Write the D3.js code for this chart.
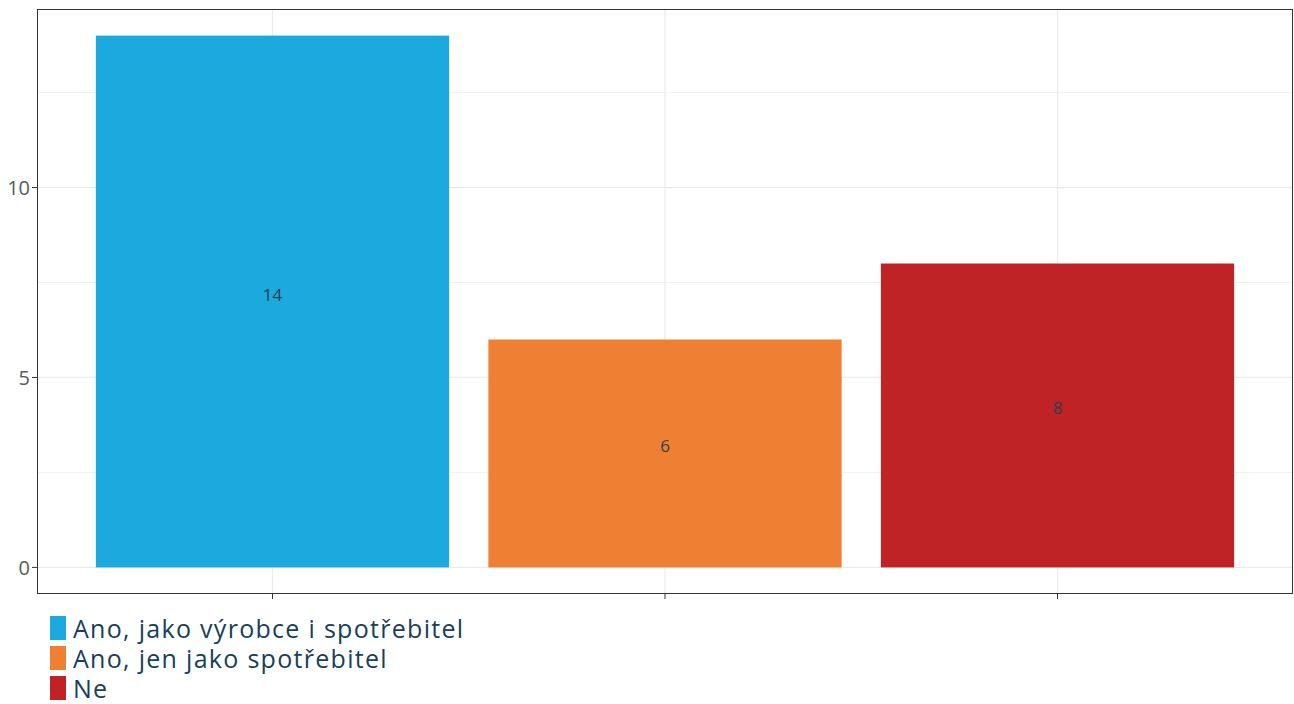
<!DOCTYPE html>
<html><head><meta charset="utf-8">
<script src="https://cdn.jsdelivr.net/npm/d3@7"></script>
<style>body{margin:0;background:#fff}svg{display:block}</style>
</head><body>
<svg id="chart" width="1294" height="704"></svg>
<script>
const categories = ["Ano, jako výrobce i spotřebitel", "Ano, jen jako spotřebitel", "Ne"];
const values = [14, 6, 8];
const colors = ["#1CAADE", "#EF7F33", "#C02326"];
const yTicks = [0, 5, 10];
const yMinor = [2.5, 7.5, 12.5];

const FONT = "'Open Sans', Lato, sans-serif";
const svg = d3.select("#chart");
const L = 37, R = 1293, T = 9, B = 594;
const y = d3.scaleLinear().domain([-0.7, 14.7]).range([B, T]);
const x = d3.scaleLinear().domain([0.4, 3.6]).range([L, R]);
const cx = (i) => x(i + 1);
const bw = x(1.9) - x(1);

const g = svg.append("g");
g.selectAll(".ymin").data(yMinor).join("line")
  .attr("x1", L).attr("x2", R).attr("y1", d => y(d)).attr("y2", d => y(d))
  .attr("stroke", "#ebebeb").attr("stroke-width", 0.7);
g.selectAll(".ymaj").data(yTicks).join("line")
  .attr("x1", L).attr("x2", R).attr("y1", d => y(d)).attr("y2", d => y(d))
  .attr("stroke", "#ebebeb").attr("stroke-width", 1.2);
g.selectAll(".xmaj").data(categories).join("line")
  .attr("x1", (d, i) => cx(i)).attr("x2", (d, i) => cx(i)).attr("y1", T).attr("y2", B)
  .attr("stroke", "#ebebeb").attr("stroke-width", 1.2);

g.selectAll(".bar").data(values).join("rect")
  .attr("x", (d, i) => cx(i) - bw / 2).attr("width", bw)
  .attr("y", d => y(d)).attr("height", d => y(0) - y(d))
  .attr("fill", (d, i) => colors[i]);

g.selectAll(".lbl").data(values).join("text")
  .attr("x", (d, i) => cx(i)).attr("y", d => y(d / 2) - 1)
  .attr("text-anchor", "middle")
  .attr("font-family", FONT).attr("font-size", 17)
  .attr("fill", "#2a3f4f").text(d => d);

g.append("rect").attr("x", L + 0.5).attr("y", T + 0.5).attr("width", R - L - 1).attr("height", B - T - 1)
  .attr("fill", "none").attr("stroke", "#333").attr("stroke-width", 1);

g.selectAll(".yt").data(yTicks).join("line")
  .attr("x1", L - 5).attr("x2", L).attr("y1", d => y(d)).attr("y2", d => y(d))
  .attr("stroke", "#333");
g.selectAll(".ytl").data(yTicks).join("text")
  .attr("x", L - 7).attr("y", d => y(d)).attr("dy", "0.36em")
  .attr("text-anchor", "end")
  .attr("font-family", FONT).attr("font-size", 20)
  .attr("fill", "#5a5a5a").text(d => d);
g.selectAll(".xt").data(categories).join("line")
  .attr("x1", (d, i) => cx(i)).attr("x2", (d, i) => cx(i)).attr("y1", B).attr("y2", B + 5)
  .attr("stroke", "#333");

const lg = svg.append("g");
const ly0 = 616, lstep = 30;
lg.selectAll(".key").data(categories).join("rect")
  .attr("x", 50).attr("y", (d, i) => ly0 + i * lstep).attr("width", 16).attr("height", 24)
  .attr("fill", (d, i) => colors[i]);
lg.selectAll(".ltext").data(categories).join("text")
  .attr("x", 73).attr("y", (d, i) => ly0 + i * lstep + 22)
  .attr("font-family", FONT).attr("font-size", 25)
  .attr("letter-spacing", 1.3)
  .attr("fill", "#17405a").text(d => d);
</script>
</body></html>
